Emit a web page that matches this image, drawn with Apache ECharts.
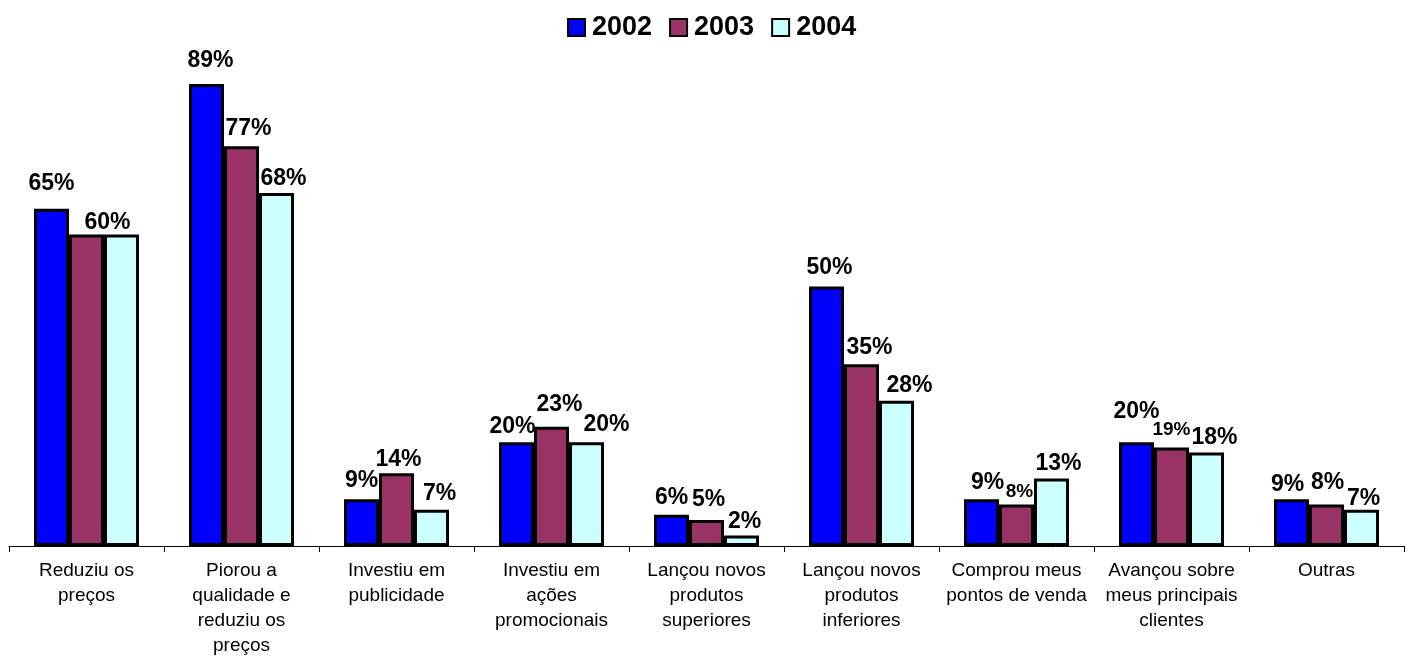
<!DOCTYPE html>
<html>
<head>
<meta charset="utf-8">
<script src="https://cdn.jsdelivr.net/npm/echarts@6/dist/echarts.min.js"></script>
<style>
html,body{margin:0;padding:0;background:#fff;}
#chart{width:1410px;height:659px;}
</style>
</head>
<body>
<div id="chart"></div>
<script>
const categories = [
  'Reduziu os\npreços',
  'Piorou a\nqualidade e\nreduziu os\npreços',
  'Investiu em\npublicidade',
  'Investiu em\nações\npromocionais',
  'Lançou novos\nprodutos\nsuperiores',
  'Lançou novos\nprodutos\ninferiores',
  'Comprou meus\npontos de venda',
  'Avançou sobre\nmeus principais\nclientes',
  'Outras'
];
const seriesNames = ['2002', '2003', '2004'];
const values2002 = [65, 89, 9, 20, 6, 50, 9, 20, 9];
const values2003 = [60, 77, 14, 23, 5, 35, 8, 19, 8];
const values2004 = [60, 68, 7, 20, 2, 28, 13, 18, 7];

// label layout tweaks (Excel-like placement): [dx, distance, small font, hidden]
const labelLayout2002 = [[0,13],[4,12],[0,7],[-4,4],[0,6],[3,7],[6,5],[0,19],[-4,3]];
const labelLayout2003 = [[0,4,0,1],[7,6],[2,2],[8,10],[2,9],[8,5],[3,3,1],[0,8,1],[1,10]];
const labelLayout2004 = [[-14,0],[7,3],[8,5],[20,6],[3,2],[13,4],[7,3],[8,3],[2,0]];

const colors = ['#0000FF', '#993366', '#CCFFFF'];
const FONT = 'Arial, "Liberation Sans", sans-serif';

function buildData(vals, layout) {
  return vals.map((v, i) => {
    const l = layout[i];
    return {
      value: v,
      label: {
        show: !l[3],
        distance: l[1],
        offset: [l[0], 0],
        fontSize: l[2] ? 19 : 23
      }
    };
  });
}

const allVals = [values2002, values2003, values2004];
const allLayouts = [labelLayout2002, labelLayout2003, labelLayout2004];

const chart = echarts.init(document.getElementById('chart'));
chart.setOption({
  animation: false,
  textStyle: { fontFamily: FONT },
  legend: {
    top: 9,
    left: 562,
    icon: 'rect',
    itemWidth: 17,
    itemHeight: 17,
    itemGap: 17,
    textStyle: { fontSize: 27, fontWeight: 'bold', color: '#000', fontFamily: FONT, padding: [0, 0, 0, 2] },
    data: seriesNames
  },
  grid: { left: 9, right: 6, top: 27, bottom: 113, containLabel: false },
  xAxis: {
    type: 'category',
    data: categories,
    axisLine: { lineStyle: { color: '#000', width: 1 } },
    axisTick: { show: true, length: 6, lineStyle: { color: '#000' } },
    axisLabel: {
      interval: 0,
      margin: 12,
      fontSize: 19,
      lineHeight: 25,
      color: '#000',
      fontFamily: FONT
    }
  },
  yAxis: {
    type: 'value',
    min: 0,
    max: 100,
    show: false,
    splitLine: { show: false }
  },
  series: seriesNames.map((name, s) => ({
    name: name,
    type: 'bar',
    barWidth: 35,
    barGap: '0%',
    itemStyle: { color: colors[s], borderColor: '#000', borderWidth: 3 },
    label: {
      show: true,
      position: 'top',
      formatter: '{c}%',
      fontSize: 23,
      fontWeight: 'bold',
      color: '#000',
      fontFamily: FONT
    },
    data: buildData(allVals[s], allLayouts[s])
  }))
});
</script>
</body>
</html>
